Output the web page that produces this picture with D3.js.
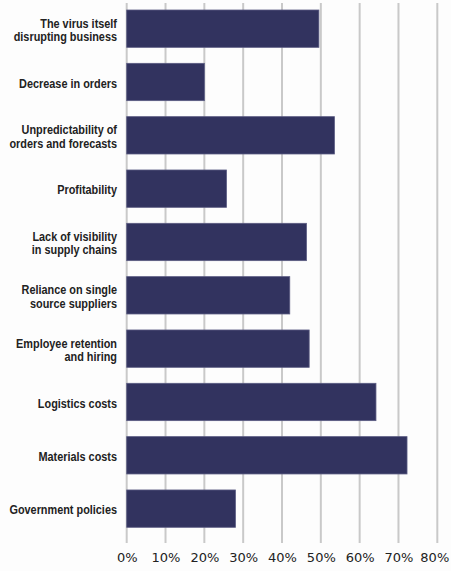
<!DOCTYPE html>
<html>
<head>
<meta charset="utf-8">
<script src="https://cdn.jsdelivr.net/npm/d3@7"></script>
<style>
  body { margin: 0; background: #fdfdfd; }
  svg { display: block; }
</style>
</head>
<body>
<div id="chart"></div>
<script>
var categories = [
    ['The virus itself', 'disrupting business'],
    ['Decrease in orders'],
    ['Unpredictability of', 'orders and forecasts'],
    ['Profitability'],
    ['Lack of visibility', 'in supply chains'],
    ['Reliance on single', 'source suppliers'],
    ['Employee retention', 'and hiring'],
    ['Logistics costs'],
    ['Materials costs'],
    ['Government policies']
];
var values = [49.5, 20, 53.5, 25.7, 46.3, 42, 47, 64.2, 72.2, 28];
var tickValues = [0, 10, 20, 30, 40, 50, 60, 70, 80];

var width = 451;
var height = 571;

var svg = d3.select('#chart')
            .append('svg')
            .attr('width', width)
            .attr('height', height);

var x = d3.scaleLinear()
          .domain([0, 80])
          .range([126.7, 437.3]);

var y = d3.scaleBand()
          .domain(d3.range(categories.length))
          .range([2, 535.3])
          .paddingInner(0.3)
          .paddingOuter(0.15);

// gridlines
svg.append('g')
   .selectAll('line')
   .data(tickValues)
   .enter()
   .append('line')
   .attr('x1', function(d){ return x(d); })
   .attr('x2', function(d){ return x(d); })
   .attr('y1', 3)
   .attr('y2', 543)
   .style('stroke', '#c9c9c9')
   .style('stroke-width', 2);

// bars
svg.append('g')
   .selectAll('rect')
   .data(values)
   .enter()
   .append('rect')
   .attr('x', x(0))
   .attr('y', function(d, i){ return y(i); })
   .attr('width', function(d){ return x(d) - x(0); })
   .attr('height', y.bandwidth())
   .style('fill', '#32335f')
   .style('stroke', '#5a5b82')
   .style('stroke-width', 0.8);

// category labels, squeezed horizontally to mimic a condensed face
var labelG = svg.append('g');

var labels = labelG.selectAll('text')
   .data(categories)
   .enter()
   .append('text')
   .attr('text-anchor', 'end')
   .style('font-family', '"Liberation Sans", Arial, sans-serif')
   .style('font-weight', 'bold')
   .style('font-size', '13.5px')
   .style('fill', '#222');

labels.each(function(d, i){
    var cy = y(i) + y.bandwidth() / 2;
    var lineH = 13.4;
    var start = cy - (d.length - 1) * lineH / 2;
    d3.select(this).selectAll('tspan')
      .data(d)
      .enter()
      .append('tspan')
      .attr('x', 0)
      .attr('y', function(t, j){ return start + j * lineH; })
      .attr('dy', '0.42em')
      .text(function(t){ return t; });
});

// "Decrease in orders" is ~98px wide in the original
var refW = labels.filter(function(d, i){ return i === 1; }).node().getComputedTextLength();
var sx = 98 / refW;
labelG.attr('transform', 'translate(117,0) scale(' + sx + ',1)');

// x axis
var axis = d3.axisBottom(x)
             .tickValues(tickValues)
             .tickSize(0)
             .tickPadding(0)
             .tickFormat(function(d){ return d + '%'; });

var ax = svg.append('g')
            .attr('transform', 'translate(0,552.5)')
            .call(axis);

ax.select('.domain').remove();
ax.selectAll('text')
  .style('font-family', '"DejaVu Sans", sans-serif')
  .style('font-size', '13px')
  .style('fill', '#222');
// last label sits a little left of its gridline in the original
ax.selectAll('text')
  .filter(function(d){ return d === 80; })
  .attr('dx', -3);
</script>
</body>
</html>
